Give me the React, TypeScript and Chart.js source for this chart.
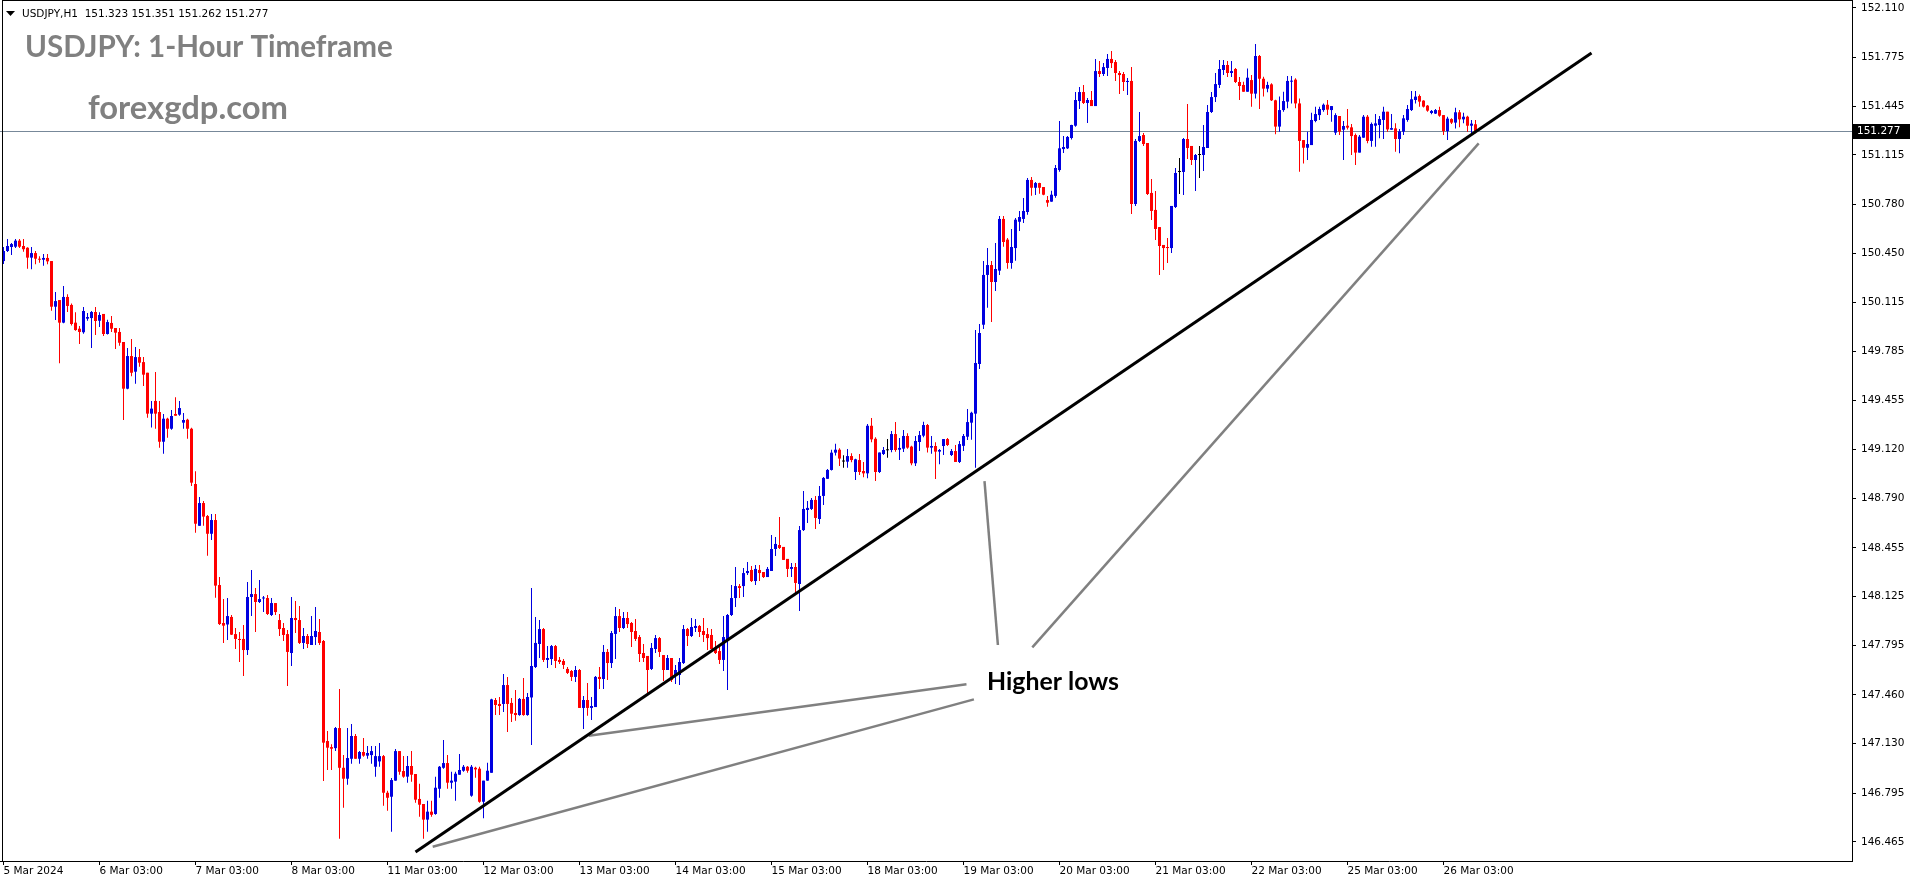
import React, { useEffect, useRef } from "react";
import { Chart, registerables } from "chart.js";

Chart.register(...registerables);

// ---------- DATA (USDJPY H1, one entry per hourly bar) ----------
const opens = [
150.397,150.465,150.492,150.494,150.535,150.499,150.487,150.420,150.451,150.411,
150.406,150.418,150.397,150.088,150.133,149.980,150.154,150.100,149.980,149.939,
149.915,150.007,150.011,150.052,149.993,150.039,149.903,149.978,149.944,149.917,
149.849,149.533,149.754,149.648,149.747,149.713,149.641,149.364,149.450,149.375,
149.174,149.330,149.262,149.362,149.357,149.303,149.323,149.262,148.888,148.605,
148.759,148.671,148.551,148.644,148.204,147.947,147.937,147.988,147.872,147.839,
147.839,147.764,148.123,148.143,148.089,148.113,148.116,148.001,148.082,147.967,
147.913,147.872,147.744,147.981,147.967,147.812,147.859,147.798,147.852,147.886,
147.825,147.148,147.107,147.100,147.236,146.967,146.893,147.028,147.182,147.028,
147.074,147.049,147.053,146.974,147.010,147.046,146.798,146.771,146.880,147.080,
146.945,146.907,146.979,146.925,146.756,146.722,146.616,146.670,146.654,146.825,
146.967,146.999,146.866,146.873,146.920,146.947,146.974,146.778,146.967,146.961,
146.737,146.880,146.933,147.426,147.399,147.399,147.527,147.406,147.338,147.324,
147.433,147.324,147.443,147.649,147.805,147.906,147.697,147.703,147.791,147.697,
147.690,147.636,147.622,147.582,147.629,147.372,147.426,147.372,147.378,147.582,
147.568,147.751,147.676,147.873,147.994,147.913,147.981,147.947,147.893,147.852,
147.744,147.724,147.636,147.771,147.845,147.730,147.629,147.710,147.595,147.595,
147.676,147.906,147.859,147.913,147.927,147.893,147.872,147.866,147.771,147.757,
147.697,147.832,148.001,148.116,148.197,148.197,148.285,148.306,148.231,148.306,
148.292,148.258,148.299,148.448,148.475,148.462,148.381,148.313,148.326,148.211,
148.576,148.712,148.719,148.780,148.651,148.807,148.923,148.983,149.100,149.120,
149.040,149.039,149.077,148.969,149.050,148.976,148.960,149.282,149.194,148.969,
149.091,149.116,149.118,149.226,149.120,149.127,149.213,149.141,149.028,149.172,
149.215,149.287,149.134,149.145,149.107,149.145,149.192,149.084,149.111,149.037,
149.146,149.208,149.303,149.364,149.700,149.966,150.303,150.370,150.255,150.332,
150.682,150.542,150.384,150.485,150.663,150.682,150.729,150.946,150.893,150.925,
150.898,150.810,150.799,150.838,151.013,151.155,151.160,151.230,151.313,151.480,
151.541,151.467,151.487,151.446,151.683,151.663,151.704,151.765,151.744,151.670,
151.663,151.609,151.616,150.783,151.210,151.250,151.196,150.858,150.743,150.627,
150.506,150.492,150.485,150.763,151.000,151.000,151.223,151.176,151.081,151.115,
151.115,151.162,151.406,151.507,151.589,151.690,151.724,151.670,151.697,151.609,
151.589,151.543,151.622,151.530,151.785,151.631,151.564,151.593,151.485,151.307,
151.419,151.476,151.611,151.625,151.464,151.216,151.164,151.182,151.345,151.385,
151.419,151.455,151.419,151.266,151.379,151.286,151.313,151.302,151.250,151.131,
151.232,151.374,151.210,151.313,151.318,151.352,151.408,151.286,151.295,151.223,
151.273,151.352,151.419,151.487,151.514,151.483,151.449,151.399,151.395,151.419,
151.385,151.277,151.358,151.334,151.404,151.356,151.374,151.313,151.323
];
const highs = [
150.492,150.546,150.519,150.546,150.546,150.546,150.490,150.492,150.465,150.429,
150.445,150.445,150.397,150.187,150.133,150.228,150.172,150.110,150.050,149.957,
150.086,150.045,150.059,150.086,150.050,150.039,150.000,150.025,149.944,149.944,
149.849,149.808,149.869,149.815,149.802,149.747,149.641,149.450,149.646,149.450,
149.362,149.337,149.389,149.475,149.450,149.368,149.330,149.269,148.974,148.800,
148.773,148.678,148.685,148.685,148.258,148.109,148.116,148.001,147.913,147.886,
147.933,148.225,148.306,148.184,148.238,148.130,148.136,148.116,148.082,148.008,
147.947,147.900,148.123,148.096,148.062,147.913,147.872,147.994,148.055,147.974,
147.832,147.216,147.127,147.243,147.500,147.053,147.236,147.263,147.196,147.080,
147.168,147.114,147.114,147.114,147.134,147.053,146.812,146.898,147.094,147.080,
147.046,147.046,147.080,146.925,146.859,146.722,146.744,146.744,146.906,146.979,
147.155,147.053,146.940,146.940,147.060,146.986,146.979,146.986,146.974,146.974,
146.880,147.001,147.434,147.440,147.446,147.602,147.582,147.440,147.493,147.440,
147.575,147.473,148.184,147.988,147.967,147.913,147.791,147.798,147.798,147.717,
147.704,147.649,147.629,147.656,147.636,147.453,147.541,147.446,147.588,147.649,
147.798,147.771,147.893,148.055,148.041,148.021,148.021,147.954,147.974,147.866,
147.805,147.724,147.812,147.866,147.852,147.730,147.730,147.710,147.663,147.710,
147.933,147.913,147.981,147.974,147.933,147.981,147.913,147.906,147.825,147.798,
147.994,148.008,148.204,148.326,148.211,148.319,148.360,148.333,148.340,148.340,
148.292,148.326,148.543,148.529,148.664,148.462,148.381,148.353,148.353,148.603,
148.841,148.773,148.793,148.807,148.875,148.936,148.990,149.120,149.160,149.130,
149.082,149.124,149.096,149.059,149.091,149.037,149.294,149.335,149.204,149.101,
149.138,149.192,149.247,149.307,149.199,149.253,149.231,149.146,149.213,149.247,
149.310,149.294,149.213,149.170,149.124,149.192,149.199,149.124,149.152,149.179,
149.226,149.396,149.377,149.930,149.971,150.397,150.485,150.397,150.519,150.702,
150.702,150.553,150.614,150.688,150.736,150.824,150.959,150.966,150.932,150.927,
150.898,150.837,150.873,151.047,151.345,151.243,151.243,151.320,151.541,151.575,
151.589,151.500,151.548,151.765,151.751,151.737,151.798,151.819,151.758,151.683,
151.677,151.636,151.710,151.223,151.406,151.264,151.196,150.952,150.871,150.627,
150.506,150.553,150.770,151.027,151.094,151.230,151.460,151.176,151.122,151.176,
151.318,151.453,151.541,151.670,151.758,151.758,151.751,151.751,151.704,151.643,
151.611,151.701,151.656,151.866,151.792,151.645,151.611,151.600,151.489,151.510,
151.543,151.649,151.649,151.634,151.498,151.216,151.273,151.401,151.442,151.442,
151.464,151.487,151.446,151.397,151.379,151.345,151.426,151.325,151.261,151.250,
151.385,151.385,151.334,151.392,151.379,151.442,151.408,151.392,151.329,151.291,
151.385,151.453,151.548,151.548,151.525,151.485,151.453,151.419,151.426,151.442,
151.385,151.374,151.363,151.435,151.419,151.401,151.381,151.352,151.351
];
const lows = [
150.377,150.458,150.438,150.485,150.485,150.460,150.345,150.341,150.375,150.386,
150.365,150.375,150.061,149.998,149.705,149.976,150.052,149.960,149.925,149.836,
149.905,149.993,149.808,149.896,149.951,149.890,149.900,149.917,149.802,149.824,
149.321,149.530,149.617,149.567,149.682,149.551,149.337,149.270,149.262,149.133,
149.093,149.201,149.255,149.350,149.350,149.262,149.195,148.874,148.558,148.605,
148.605,148.402,148.509,148.118,147.933,147.812,147.832,147.866,147.771,147.683,
147.588,147.731,147.995,147.886,148.082,148.021,148.001,147.994,148.001,147.859,
147.825,147.521,147.656,147.879,147.805,147.771,147.778,147.798,147.798,147.798,
146.877,146.952,146.952,147.080,146.487,146.697,146.852,146.995,147.028,146.995,
147.042,147.028,146.995,146.907,146.974,146.710,146.676,146.534,146.880,146.920,
146.900,146.866,146.873,146.731,146.636,146.487,146.534,146.636,146.649,146.764,
146.960,146.825,146.825,146.744,146.920,146.940,146.933,146.771,146.900,146.731,
146.625,146.880,146.933,147.325,147.325,147.345,147.209,147.277,147.285,147.320,
147.320,147.320,147.121,147.642,147.710,147.683,147.642,147.663,147.642,147.670,
147.636,147.602,147.554,147.547,147.372,147.229,147.320,147.290,147.378,147.500,
147.500,147.561,147.642,147.704,147.886,147.906,147.913,147.785,147.825,147.683,
147.683,147.466,147.629,147.744,147.717,147.554,147.629,147.547,147.534,147.527,
147.669,147.791,147.852,147.886,147.852,147.818,147.764,147.771,147.737,147.670,
147.622,147.493,147.994,148.055,148.116,148.123,148.272,148.225,148.204,148.231,
148.252,148.258,148.299,148.401,148.448,148.374,148.258,148.258,148.137,148.028,
148.570,148.624,148.712,148.583,148.617,148.746,148.923,148.980,149.080,149.010,
148.998,148.998,149.035,148.915,148.949,148.933,148.926,149.170,148.908,148.962,
149.084,149.066,149.102,149.107,149.050,149.104,149.127,149.015,149.010,149.111,
149.204,149.101,149.093,148.922,149.022,149.084,149.145,149.077,149.037,149.030,
149.111,149.186,149.187,148.998,149.666,149.937,150.081,149.985,150.194,150.303,
150.494,150.345,150.345,150.399,150.600,150.655,150.711,150.839,150.844,150.853,
150.842,150.765,150.799,150.826,151.002,151.128,151.155,151.220,151.306,151.426,
151.460,151.331,151.446,151.446,151.643,151.650,151.650,151.704,151.616,151.528,
151.548,151.521,150.715,150.770,151.203,151.176,150.844,150.675,150.539,150.303,
150.337,150.384,150.451,150.756,150.851,150.844,151.088,151.047,150.871,150.959,
151.007,151.162,151.399,151.473,151.568,151.656,151.643,151.643,151.602,151.487,
151.543,151.543,151.442,151.498,151.426,151.510,151.539,151.480,151.255,151.273,
151.408,151.431,151.464,151.431,151.002,151.058,151.081,151.182,151.336,151.352,
151.408,151.385,151.340,151.250,151.250,151.081,151.288,151.115,151.047,151.131,
151.232,151.194,151.171,151.171,151.228,151.223,151.273,151.286,151.137,151.126,
151.250,151.340,151.413,151.464,151.442,151.437,151.408,151.390,151.392,151.374,
151.250,151.216,151.325,151.295,151.302,151.329,151.273,151.261,151.262
];
const closes = [
150.465,150.499,150.512,150.535,150.494,150.477,150.420,150.451,150.413,150.406,
150.418,150.395,150.088,150.126,149.980,150.154,150.093,149.971,149.930,149.917,
150.059,150.018,150.052,149.991,150.032,149.903,149.984,149.939,149.912,149.844,
149.533,149.754,149.641,149.747,149.709,149.628,149.364,149.398,149.364,149.174,
149.330,149.262,149.348,149.350,149.402,149.321,149.262,148.897,148.619,148.759,
148.667,148.551,148.644,148.200,147.940,147.929,147.994,147.868,147.839,147.832,
147.764,148.123,148.143,148.089,148.109,148.116,148.008,148.082,148.021,147.906,
147.866,147.751,147.981,147.967,147.812,147.859,147.805,147.859,147.893,147.812,
147.137,147.103,147.096,147.236,146.967,146.893,147.033,147.182,147.028,147.074,
147.049,147.067,147.080,147.046,147.046,146.798,146.764,146.884,147.080,146.940,
146.907,146.979,146.920,146.751,146.717,146.616,146.670,146.649,146.832,146.974,
146.999,146.866,146.880,146.927,146.952,146.974,146.947,146.974,146.956,146.737,
146.880,146.947,147.430,147.392,147.385,147.527,147.399,147.333,147.324,147.433,
147.324,147.446,147.656,147.812,147.906,147.697,147.710,147.791,147.690,147.683,
147.663,147.609,147.582,147.629,147.372,147.426,147.372,147.385,147.582,147.568,
147.751,147.676,147.879,147.994,147.913,147.981,147.940,147.886,147.839,147.737,
147.710,147.629,147.778,147.845,147.751,147.629,147.710,147.561,147.629,147.683,
147.906,147.859,147.920,147.927,147.886,147.866,147.845,147.771,147.744,147.697,
147.852,148.001,148.116,148.197,148.184,148.285,148.299,148.231,148.313,148.285,
148.258,148.313,148.448,148.482,148.455,148.374,148.313,148.326,148.218,148.576,
148.719,148.726,148.780,148.658,148.807,148.929,148.983,149.100,149.120,149.060,
149.040,149.077,149.050,149.055,148.969,148.960,149.282,149.190,148.969,149.101,
149.118,149.116,149.226,149.118,149.132,149.213,149.134,149.028,149.179,149.219,
149.287,149.134,149.145,149.107,149.118,149.192,149.152,149.111,149.037,149.158,
149.213,149.307,149.370,149.707,149.910,150.303,150.370,150.255,150.343,150.682,
150.526,150.384,150.492,150.677,150.695,150.736,150.946,150.893,150.925,150.893,
150.846,150.792,150.846,151.027,151.160,151.169,151.237,151.318,151.487,151.541,
151.467,151.487,151.446,151.683,151.663,151.710,151.765,151.737,151.670,151.656,
151.609,151.616,150.783,151.210,151.243,151.189,150.851,150.736,150.614,150.499,
150.485,150.485,150.770,150.993,151.000,151.223,151.162,151.081,151.115,151.115,
151.169,151.406,151.507,151.595,151.697,151.724,151.670,151.683,151.609,151.582,
151.543,151.638,151.530,151.785,151.631,151.564,151.589,151.485,151.307,151.419,
151.480,151.616,151.618,151.464,151.210,151.164,151.189,151.352,151.392,151.426,
151.455,151.422,151.446,151.385,151.273,151.311,151.300,151.243,151.131,151.239,
151.374,151.210,151.325,151.329,151.358,151.408,151.288,151.297,151.223,151.275,
151.363,151.426,151.492,151.510,151.476,151.442,151.415,151.413,151.419,151.381,
151.277,151.361,151.334,151.404,151.356,151.374,151.313,151.327,151.277
];

const dayLabels = [
  "5 Mar 2024", "6 Mar 03:00", "7 Mar 03:00", "8 Mar 03:00", "11 Mar 03:00",
  "12 Mar 03:00", "13 Mar 03:00", "14 Mar 03:00", "15 Mar 03:00", "18 Mar 03:00",
  "19 Mar 03:00", "20 Mar 03:00", "21 Mar 03:00", "22 Mar 03:00", "25 Mar 03:00",
  "26 Mar 03:00",
];
const barsPerDay = 24;

const yTickValues = [
  152.110, 151.775, 151.445, 151.115, 150.780, 150.450, 150.115, 149.785, 149.455,
  149.120, 148.790, 148.455, 148.125, 147.795, 147.460, 147.130, 146.795, 146.465,
];
const yAxisMin = 146.336;
const yAxisMax = 152.164;
const xAxisMin = -0.875;
const xAxisMax = 462.125;

const symbolName = "USDJPY,H1";
const titleText = "USDJPY: 1-Hour Timeframe";
const siteText = "forexgdp.com";
const noteText = "Higher lows";

// annotation lines: [bar index, price]
const trendLine = [{ x: 103, y: 146.397 }, { x: 397, y: 151.805 }];
const higherLowLine1 = [{ x: 146.3, y: 147.184 }, { x: 240.75, y: 147.532 }];
const higherLowLine2 = [{ x: 107.3, y: 146.433 }, { x: 242.6, y: 147.43 }];
const higherLowLine3 = [{ x: 245.25, y: 148.908 }, { x: 248.6, y: 147.798 }];
const higherLowLine4 = [{ x: 257.2, y: 147.782 }, { x: 368.8, y: 151.194 }];

const BULL = "#0000e0";
const BEAR = "#ff0000";
const DOJI = "#000000";
const AXIS_FONT = '"DejaVu Sans", sans-serif';

function drawFitted(ctx: CanvasRenderingContext2D, text: string, x: number, baseline: number, width: number, color: string) {
  const fam = 'Lato, "Open Sans", sans-serif';
  ctx.font = `bold 100px ${fam}`;
  const w = ctx.measureText(text).width;
  const size = (100 * width) / w;
  ctx.font = `bold ${size}px ${fam}`;
  ctx.fillStyle = color;
  ctx.textAlign = "left";
  ctx.textBaseline = "alphabetic";
  ctx.fillText(text, x, baseline);
}

export default function App() {
  const canvasRef = useRef<HTMLCanvasElement | null>(null);

  useEffect(() => {
    const canvas = canvasRef.current;
    if (!canvas) return;
    const n = closes.length;
    const idx = closes.map((_, i) => i);
    const colors = idx.map((i) =>
      closes[i] > opens[i] ? BULL : closes[i] < opens[i] ? BEAR : DOJI
    );
    const lastClose = closes[n - 1];

    const decor = {
      id: "decor",
      beforeDatasetsDraw(chart: any) {
        const { ctx, chartArea, scales } = chart;
        const y = Math.round(scales.y.getPixelForValue(lastClose)) + 0.5;
        ctx.save();
        ctx.strokeStyle = "#778899";
        ctx.lineWidth = 1;
        ctx.beginPath();
        ctx.moveTo(chartArea.left, y);
        ctx.lineTo(chartArea.right, y);
        ctx.stroke();
        ctx.restore();
      },
      afterDraw(chart: any) {
        const { ctx, chartArea, scales } = chart;
        ctx.save();
        // frame (left + top)
        ctx.fillStyle = "#000";
        ctx.fillRect(2, 0, 1, chartArea.bottom);
        ctx.fillRect(2, 0, chartArea.right - 2, 1);
        // header
        ctx.beginPath();
        ctx.moveTo(6, 11);
        ctx.lineTo(15, 11);
        ctx.lineTo(10.5, 16);
        ctx.closePath();
        ctx.fill();
        ctx.font = `10.5px ${AXIS_FONT}`;
        ctx.textAlign = "left";
        ctx.textBaseline = "alphabetic";
        const hdr = `${symbolName}  ${opens[n - 1].toFixed(3)} ${highs[n - 1].toFixed(3)} ${lows[n - 1].toFixed(3)} ${closes[n - 1].toFixed(3)}`;
        ctx.fillText(hdr, 22, 17);
        // titles
        drawFitted(ctx, titleText, 25, 57, 368, "#808080");
        drawFitted(ctx, siteText, 88, 119, 200, "#808080");
        drawFitted(ctx, noteText, 987, 690, 132, "#000000");
        // current price box
        const py = scales.y.getPixelForValue(lastClose);
        ctx.fillStyle = "#000";
        ctx.fillRect(chartArea.right + 1, Math.round(py) - 7, 57, 15);
        ctx.fillStyle = "#fff";
        ctx.font = `10.5px ${AXIS_FONT}`;
        ctx.textBaseline = "middle";
        ctx.fillText(lastClose.toFixed(3), chartArea.right + 5, Math.round(py) + 0.5);
        ctx.restore();
      },
    };

    const lineDs = (data: any[], color: string, width: number) => ({
      type: "line" as const,
      data,
      borderColor: color,
      borderWidth: width,
      pointRadius: 0,
      tension: 0,
      fill: false,
      order: 1,
    });

    const chart = new Chart(canvas, {
      type: "bar",
      data: {
        datasets: [
          lineDs(trendLine, "#000000", 3),
          lineDs(higherLowLine1, "#808080", 2.5),
          lineDs(higherLowLine2, "#808080", 2.5),
          lineDs(higherLowLine3, "#808080", 2.5),
          lineDs(higherLowLine4, "#808080", 2.5),
          {
            type: "bar" as const,
            data: idx.map((i) => ({ x: i, y: [opens[i], closes[i]] })),
            backgroundColor: colors,
            borderWidth: 0,
            barThickness: 3,
            minBarLength: 1,
            grouped: false,
            inflateAmount: 0,
            order: 2,
          } as any,
          {
            type: "bar" as const,
            data: idx.map((i) => ({ x: i, y: [lows[i], highs[i]] })),
            backgroundColor: colors,
            borderWidth: 0,
            barThickness: 1,
            minBarLength: 1,
            grouped: false,
            inflateAmount: 0,
            order: 3,
          } as any,
        ],
      },
      options: {
        animation: false,
        responsive: false,
        devicePixelRatio: 1,
        events: [],
        layout: { padding: 0 },
        plugins: { legend: { display: false }, tooltip: { enabled: false } },
        scales: {
          x: {
            type: "linear",
            offset: false,
            min: xAxisMin,
            max: xAxisMax,
            afterBuildTicks: (scale: any) => {
              scale.ticks = dayLabels.map((_, k) => ({ value: k * barsPerDay }));
            },
            afterFit: (scale: any) => {
              scale.height = 23;
              scale.paddingLeft = 0;
              scale.paddingRight = 0;
            },
            ticks: {
              autoSkip: false,
              maxRotation: 0,
              minRotation: 0,
              align: "start",
              padding: 0,
              color: "#000",
              font: { family: AXIS_FONT, size: 10.5 },
              callback: (_v: any, i: number) => dayLabels[i] ?? "",
            },
            grid: { offset: false, drawOnChartArea: false, drawTicks: true, tickLength: 4, color: "#000" },
            border: { display: true, color: "#000", width: 1 },
          },
          y: {
            type: "linear",
            position: "right",
            min: yAxisMin,
            max: yAxisMax,
            afterBuildTicks: (scale: any) => {
              scale.ticks = yTickValues.map((v) => ({ value: v }));
            },
            afterFit: (scale: any) => {
              scale.width = 64;
              scale.paddingTop = 0;
              scale.paddingBottom = 0;
            },
            ticks: {
              autoSkip: false,
              padding: 5,
              color: "#000",
              font: { family: AXIS_FONT, size: 10.5 },
              callback: (v: any) => Number(v).toFixed(3),
            },
            grid: { drawOnChartArea: false, drawTicks: true, tickLength: 4, color: "#000" },
            border: { display: true, color: "#000", width: 1 },
          },
        },
      } as any,
      plugins: [decor],
    });

    return () => chart.destroy();
  }, []);

  return (
    <div style={{ position: "absolute", left: 0, top: 0, width: 1916, height: 884, background: "#fff" }}>
      <canvas ref={canvasRef} width={1916} height={884} style={{ display: "block", width: 1916, height: 884 }} />
    </div>
  );
}
